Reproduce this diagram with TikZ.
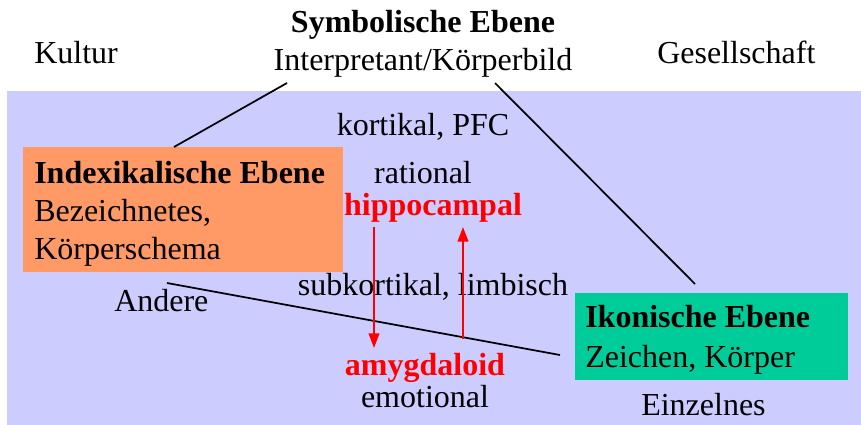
\documentclass[tikz,border=0pt]{standalone}
\usepackage{fontspec}
\setmainfont{Liberation Serif}
\usetikzlibrary{arrows.meta}
\definecolor{bgviolet}{HTML}{CCCCFF}
\definecolor{boxorange}{HTML}{FF9966}
\definecolor{boxgreen}{HTML}{00CC99}
\definecolor{hotred}{HTML}{FF0000}
\tikzset{
  lbl/.style={inner sep=0pt, anchor=base, font=\fontsize{24}{28}\selectfont},
  lblw/.style={lbl, anchor=base west},
  boldfont/.style={font=\fontsize{24}{28}\selectfont\bfseries},
  redlbl/.style={lbl, text=hotred, boldfont},
  link/.style={black, line width=1.3pt},
  flow/.style={hotred, line width=1.6pt, -{Triangle[length=11pt,width=8pt]}},
  panel/.style={inner sep=0pt, anchor=north west}
}
\begin{document}
\begin{tikzpicture}[x=0.75pt, y=-0.75pt]
  \useasboundingbox (0,0) rectangle (861,425);
  % lavender field
  \fill[bgviolet] (7,91) rectangle (861,425);
  % level boxes
  \fill[boxorange] (23,147) rectangle (343,272);
  \fill[boxgreen] (575,293) rectangle (848,380);
  \node[panel] (index) at (23,147) {};
  \node[panel] (icon) at (575,293) {};

  % top labels
  \node[lbl, boldfont] (symtitle) at (423,32) {Symbolische Ebene};
  \node[lbl] (symsub) at (423,70) {Interpretant/Körperbild};
  \node[lblw] (kultur) at (34,63) {Kultur};
  \node[lblw] (gesell) at (657,63) {Gesellschaft};

  % index box text
  \node[lblw, boldfont] (indtitle) at (34,183) {Indexikalische Ebene};
  \node[lblw] (indl1) at (34,221) {Bezeichnetes,};
  \node[lblw] (indl2) at (34,259) {Körperschema};

  % icon box text
  \node[lblw, boldfont] (ictitle) at (585,327) {Ikonische Ebene};
  \node[lblw] (icl1) at (585,367) {Zeichen, Körper};

  % middle labels
  \node[lbl] (kort) at (423,135) {kortikal, PFC};
  \node[lbl] (rat) at (423,183) {rational};
  \node[redlbl] (hippo) at (433,215) {hippocampal};
  \node[lbl] (subk) at (433,295) {subkortikal, limbisch};
  \node[redlbl] (amyg) at (425,375) {amygdaloid};
  \node[lbl] (emo) at (425,407) {emotional};
  \node[lblw] (andere) at (114,311) {Andere};
  \node[lblw] (einz) at (641,415) {Einzelnes};

  % connector end points
  \coordinate (s1) at (287,83);
  \coordinate (s2) at (495,83);
  \coordinate (i1) at (174,147);
  \coordinate (k1) at (695,284);
  \coordinate (a1) at (167,283);
  \coordinate (k2) at (560,355);

  \draw[link] (i1) -- (s1);
  \draw[link] (s2) -- (k1);
  \draw[link] (a1) -- (k2);

  % red flow arrows
  \coordinate (dtop) at (374,227);
  \coordinate (dbot) at (374,348);
  \coordinate (ubot) at (463,339);
  \coordinate (utop) at (463,227);
  \draw[flow] (dtop) -- (dbot);
  \draw[flow] (ubot) -- (utop);
\end{tikzpicture}
\end{document}
